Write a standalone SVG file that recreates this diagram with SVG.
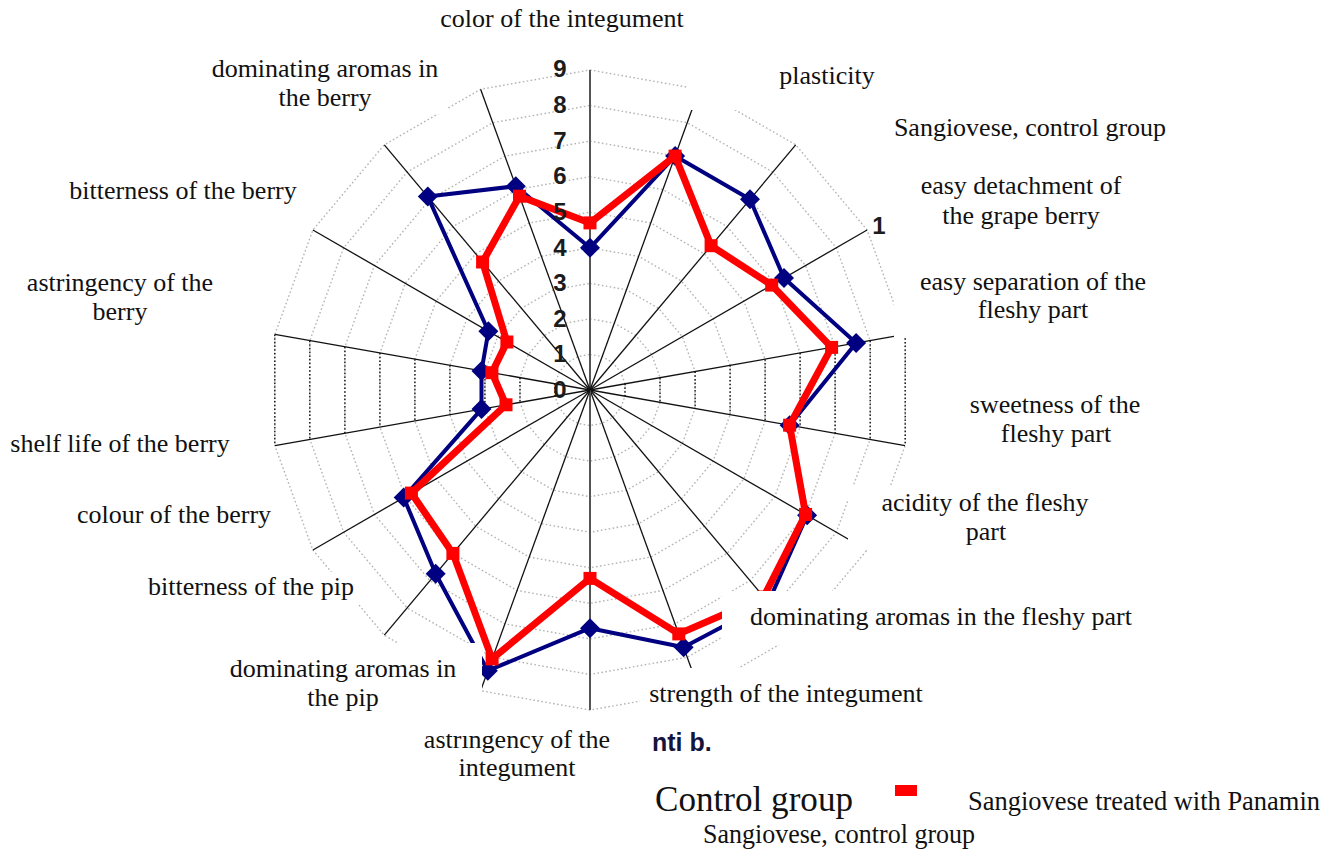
<svg xmlns="http://www.w3.org/2000/svg" xmlns:xlink="http://www.w3.org/1999/xlink" width="1339" height="850" viewBox="0 0 1339 850">
<style>
.lbl{font-family:"Liberation Serif","DejaVu Serif",serif;font-size:26px;fill:#111;text-anchor:middle}
.box{fill:#fff;stroke:none}
.ax{stroke:#111;stroke-width:1.3}
.axv{stroke:#555;stroke-width:2}
.sc{font-family:"Liberation Sans",Arial,sans-serif;font-weight:bold;font-size:24px;fill:#1c1c1c;text-anchor:middle}
.vd{stroke:#111;stroke-width:1.4;stroke-dasharray:1.5 2.2}
</style>
<defs>
<polygon id="poly" points="0,-35.56 12.16,-33.41 22.86,-27.24 30.79,-17.78 35.02,-6.17 35.02,6.17 30.79,17.78 22.86,27.24 12.16,33.41 0,35.56 -12.16,33.41 -22.86,27.24 -30.79,17.78 -35.02,6.17 -35.02,-6.17 -30.79,-17.78 -22.86,-27.24 -12.16,-33.41" fill="none"/>
<path id="dm" d="M0,-10 L10,0 L0,10 L-10,0Z" fill="#000080"/>
<rect id="sq" x="-6.5" y="-6.5" width="13" height="13" fill="#ff0000"/>
</defs>
<rect width="1339" height="850" fill="#fff"/>

<g id="grid" transform="translate(590,390)" stroke="#b4b4b4">
<use xlink:href="#poly" transform="scale(1)" stroke-width="1.4" stroke-dasharray="1.6 2.4"/>
<use xlink:href="#poly" transform="scale(2)" stroke-width="0.7" stroke-dasharray="0.8 1.2"/>
<use xlink:href="#poly" transform="scale(3)" stroke-width="0.4667" stroke-dasharray="0.5333 0.8"/>
<use xlink:href="#poly" transform="scale(4)" stroke-width="0.35" stroke-dasharray="0.4 0.6"/>
<use xlink:href="#poly" transform="scale(5)" stroke-width="0.28" stroke-dasharray="0.32 0.48"/>
<use xlink:href="#poly" transform="scale(6)" stroke-width="0.2333" stroke-dasharray="0.2667 0.4"/>
<use xlink:href="#poly" transform="scale(7)" stroke-width="0.2" stroke-dasharray="0.2286 0.3429"/>
<use xlink:href="#poly" transform="scale(8)" stroke-width="0.175" stroke-dasharray="0.2 0.3"/>
<use xlink:href="#poly" transform="scale(9)" stroke-width="0.1556" stroke-dasharray="0.1778 0.2667"/>
</g>
<g id="grid-vertical">
<line class="vd" x1="625.0" y1="383.8" x2="625.0" y2="396.2"/>
<line class="vd" x1="660.0" y1="377.7" x2="660.0" y2="402.3"/>
<line class="vd" x1="695.1" y1="371.5" x2="695.1" y2="408.5"/>
<line class="vd" x1="730.1" y1="365.3" x2="730.1" y2="414.7"/>
<line class="vd" x1="765.1" y1="359.2" x2="765.1" y2="420.8"/>
<line class="vd" x1="800.1" y1="353.0" x2="800.1" y2="427.0"/>
<line class="vd" x1="835.1" y1="346.8" x2="835.1" y2="433.2"/>
<line class="vd" x1="870.2" y1="340.6" x2="870.2" y2="439.4"/>
<line class="vd" x1="905.2" y1="334.5" x2="905.2" y2="445.5"/>
<line class="vd" x1="555.0" y1="383.8" x2="555.0" y2="396.2"/>
<line class="vd" x1="520.0" y1="377.7" x2="520.0" y2="402.3"/>
<line class="vd" x1="484.9" y1="371.5" x2="484.9" y2="408.5"/>
<line class="vd" x1="449.9" y1="365.3" x2="449.9" y2="414.7"/>
<line class="vd" x1="414.9" y1="359.2" x2="414.9" y2="420.8"/>
<line class="vd" x1="379.9" y1="353.0" x2="379.9" y2="427.0"/>
<line class="vd" x1="344.9" y1="346.8" x2="344.9" y2="433.2"/>
<line class="vd" x1="309.8" y1="340.6" x2="309.8" y2="439.4"/>
<line class="vd" x1="274.8" y1="334.5" x2="274.8" y2="445.5"/>
</g>

<g id="axes">
<line class="axv" x1="590" y1="390" x2="590" y2="70"/>
<line class="ax" x1="590" y1="390" x2="699.4" y2="89.3"/>
<line class="ax" x1="590" y1="390" x2="795.7" y2="144.9"/>
<line class="ax" x1="590" y1="390" x2="867.1" y2="230"/>
<line class="ax" x1="590" y1="390" x2="905.1" y2="334.4"/>
<line class="ax" x1="590" y1="390" x2="905.1" y2="445.6"/>
<line class="ax" x1="590" y1="390" x2="867.1" y2="550"/>
<line class="ax" x1="590" y1="390" x2="795.7" y2="635.1"/>
<line class="ax" x1="590" y1="390" x2="699.4" y2="690.7"/>
<line class="axv" x1="590" y1="390" x2="590" y2="710"/>
<line class="ax" x1="590" y1="390" x2="480.6" y2="690.7"/>
<line class="ax" x1="590" y1="390" x2="384.3" y2="635.1"/>
<line class="ax" x1="590" y1="390" x2="312.9" y2="550"/>
<line class="ax" x1="590" y1="390" x2="274.9" y2="445.6"/>
<line class="ax" x1="590" y1="390" x2="274.9" y2="334.4"/>
<line class="ax" x1="590" y1="390" x2="312.9" y2="230"/>
<line class="ax" x1="590" y1="390" x2="384.3" y2="144.9"/>
<line class="ax" x1="590" y1="390" x2="480.6" y2="89.3"/>
</g>

<g id="series-control">
<polygon points="590,247.8 675.1,156.1 750,199.3 784,278 856.1,343.1 789.6,425.2 807.1,515.3 768.3,602.4 683.6,647.3 590,628.2 487.8,670.7 435.7,573.8 403.7,497.6 481.5,409.1 481.5,370.9 488.4,331.3 427.8,196.6 515.8,186.2" fill="none" stroke="#000080" stroke-width="4" stroke-linejoin="round"/>
<use xlink:href="#dm" x="590" y="247.8"/><use xlink:href="#dm" x="675.1" y="156.1"/><use xlink:href="#dm" x="750" y="199.3"/><use xlink:href="#dm" x="784" y="278"/><use xlink:href="#dm" x="856.1" y="343.1"/><use xlink:href="#dm" x="789.6" y="425.2"/><use xlink:href="#dm" x="807.1" y="515.3"/><use xlink:href="#dm" x="768.3" y="602.4"/><use xlink:href="#dm" x="683.6" y="647.3"/><use xlink:href="#dm" x="590" y="628.2"/><use xlink:href="#dm" x="487.8" y="670.7"/><use xlink:href="#dm" x="435.7" y="573.8"/><use xlink:href="#dm" x="403.7" y="497.6"/><use xlink:href="#dm" x="481.5" y="409.1"/><use xlink:href="#dm" x="481.5" y="370.9"/><use xlink:href="#dm" x="488.4" y="331.3"/><use xlink:href="#dm" x="427.8" y="196.6"/><use xlink:href="#dm" x="515.8" y="186.2"/>
</g>
<g id="series-panamin">
<polygon points="590,222.9 675.1,156.1 711.1,245.7 771.7,285.1 831.6,347.4 789.6,425.2 805.6,514.4 763.7,597 678.8,633.9 590,578.4 492.1,658.9 452.9,553.4 411.4,493.1 506,404.8 491.9,372.7 506.9,342 482.6,262 519.5,196.2" fill="none" stroke="#ff0000" stroke-width="7" stroke-linejoin="round"/>
<use xlink:href="#sq" x="590" y="222.9"/><use xlink:href="#sq" x="675.1" y="156.1"/><use xlink:href="#sq" x="711.1" y="245.7"/><use xlink:href="#sq" x="771.7" y="285.1"/><use xlink:href="#sq" x="831.6" y="347.4"/><use xlink:href="#sq" x="789.6" y="425.2"/><use xlink:href="#sq" x="805.6" y="514.4"/><use xlink:href="#sq" x="763.7" y="597"/><use xlink:href="#sq" x="678.8" y="633.9"/><use xlink:href="#sq" x="590" y="578.4"/><use xlink:href="#sq" x="492.1" y="658.9"/><use xlink:href="#sq" x="452.9" y="553.4"/><use xlink:href="#sq" x="411.4" y="493.1"/><use xlink:href="#sq" x="506" y="404.8"/><use xlink:href="#sq" x="491.9" y="372.7"/><use xlink:href="#sq" x="506.9" y="342"/><use xlink:href="#sq" x="482.6" y="262"/><use xlink:href="#sq" x="519.5" y="196.2"/>
</g>

<g id="label-boxes">
<rect class="box" x="430" y="5" width="264" height="31"/>
<rect class="box" x="200" y="52" width="248" height="62"/>
<rect class="box" x="688" y="58" width="197" height="52"/>
<rect class="box" x="885" y="112" width="290" height="33"/>
<rect class="box" x="905" y="172" width="245" height="60"/>
<rect class="box" x="894" y="240" width="266" height="97"/>
<rect class="box" x="955" y="390" width="195" height="60"/>
<rect class="box" x="848" y="485" width="252" height="65"/>
<rect class="box" x="722" y="591" width="423" height="54"/>
<rect class="box" x="640" y="668" width="295" height="44"/>
<rect class="box" x="415" y="728" width="205" height="57"/>
<rect class="box" x="222" y="643" width="260" height="72"/>
<rect class="box" x="140" y="572" width="222" height="32"/>
<rect class="box" x="70" y="500" width="208" height="32"/>
<rect class="box" x="5" y="428" width="230" height="32"/>
<rect class="box" x="20" y="268" width="200" height="60"/>
<rect class="box" x="60" y="176" width="245" height="32"/>
</g>

<g id="labels">
<text class="lbl" x="562" y="27">color of the integument</text>
<text class="lbl" x="325" y="77">dominating aromas in</text>
<text class="lbl" x="325" y="106">the berry</text>
<text class="lbl" x="827" y="84">plasticity</text>
<text class="lbl" x="1030" y="136">Sangiovese, control group</text>
<text class="lbl" x="1021" y="194">easy detachment of</text>
<text class="lbl" x="1021" y="224">the grape berry</text>
<text class="lbl" x="1033" y="290">easy separation of the</text>
<text class="lbl" x="1033" y="318">fleshy part</text>
<text class="lbl" x="1055" y="413">sweetness of the</text>
<text class="lbl" x="1056" y="442">fleshy part</text>
<text class="lbl" x="985" y="511">acidity of the fleshy</text>
<text class="lbl" x="986" y="540">part</text>
<text class="lbl" x="941" y="625">dominating aromas in the fleshy part</text>
<text class="lbl" x="786" y="702">strength of the integument</text>
<text class="lbl" x="517" y="748">astringency of the</text>
<text class="lbl" x="517" y="776">integument</text>
<text class="lbl" x="343" y="677">dominating aromas in</text>
<text class="lbl" x="343" y="706">the pip</text>
<text class="lbl" x="251" y="595">bitterness of the pip</text>
<text class="lbl" x="174" y="523">colour of the berry</text>
<text class="lbl" x="120" y="452">shelf life of the berry</text>
<text class="lbl" x="120" y="291">astringency of the</text>
<text class="lbl" x="120" y="320">berry</text>
<text class="lbl" x="183" y="199">bitterness of the berry</text>
</g>
<rect class="box" x="438" y="716" width="42" height="18"/>

<g id="scale">
<text class="sc" x="560" y="398">0</text>
<text class="sc" x="560" y="362">1</text>
<text class="sc" x="560" y="327">2</text>
<text class="sc" x="560" y="291">3</text>
<text class="sc" x="560" y="256">4</text>
<text class="sc" x="560" y="220">5</text>
<text class="sc" x="560" y="184">6</text>
<text class="sc" x="560" y="149">7</text>
<text class="sc" x="560" y="113">8</text>
<text class="sc" x="560" y="77">9</text>
<text class="sc" x="879" y="234">1</text>
<text x="652" y="751" style="font-family:'Liberation Sans',Arial,sans-serif;font-weight:bold;font-size:25px;fill:#14143c">nti b.</text>
</g>

<g id="legend">
<text x="655" y="811" style="font-family:'Liberation Serif',serif;font-size:35px;fill:#111" textLength="198" lengthAdjust="spacingAndGlyphs">Control group</text>
<rect x="895" y="785" width="22" height="11" fill="#ff0000"/>
<text x="968" y="810" style="font-family:'Liberation Serif',serif;font-size:28px;fill:#111" textLength="352" lengthAdjust="spacingAndGlyphs">Sangiovese treated with Panamin</text>
<text x="703" y="843" style="font-family:'Liberation Serif',serif;font-size:28px;fill:#111" textLength="272" lengthAdjust="spacingAndGlyphs">Sangiovese, control group</text>
</g>
</svg>
